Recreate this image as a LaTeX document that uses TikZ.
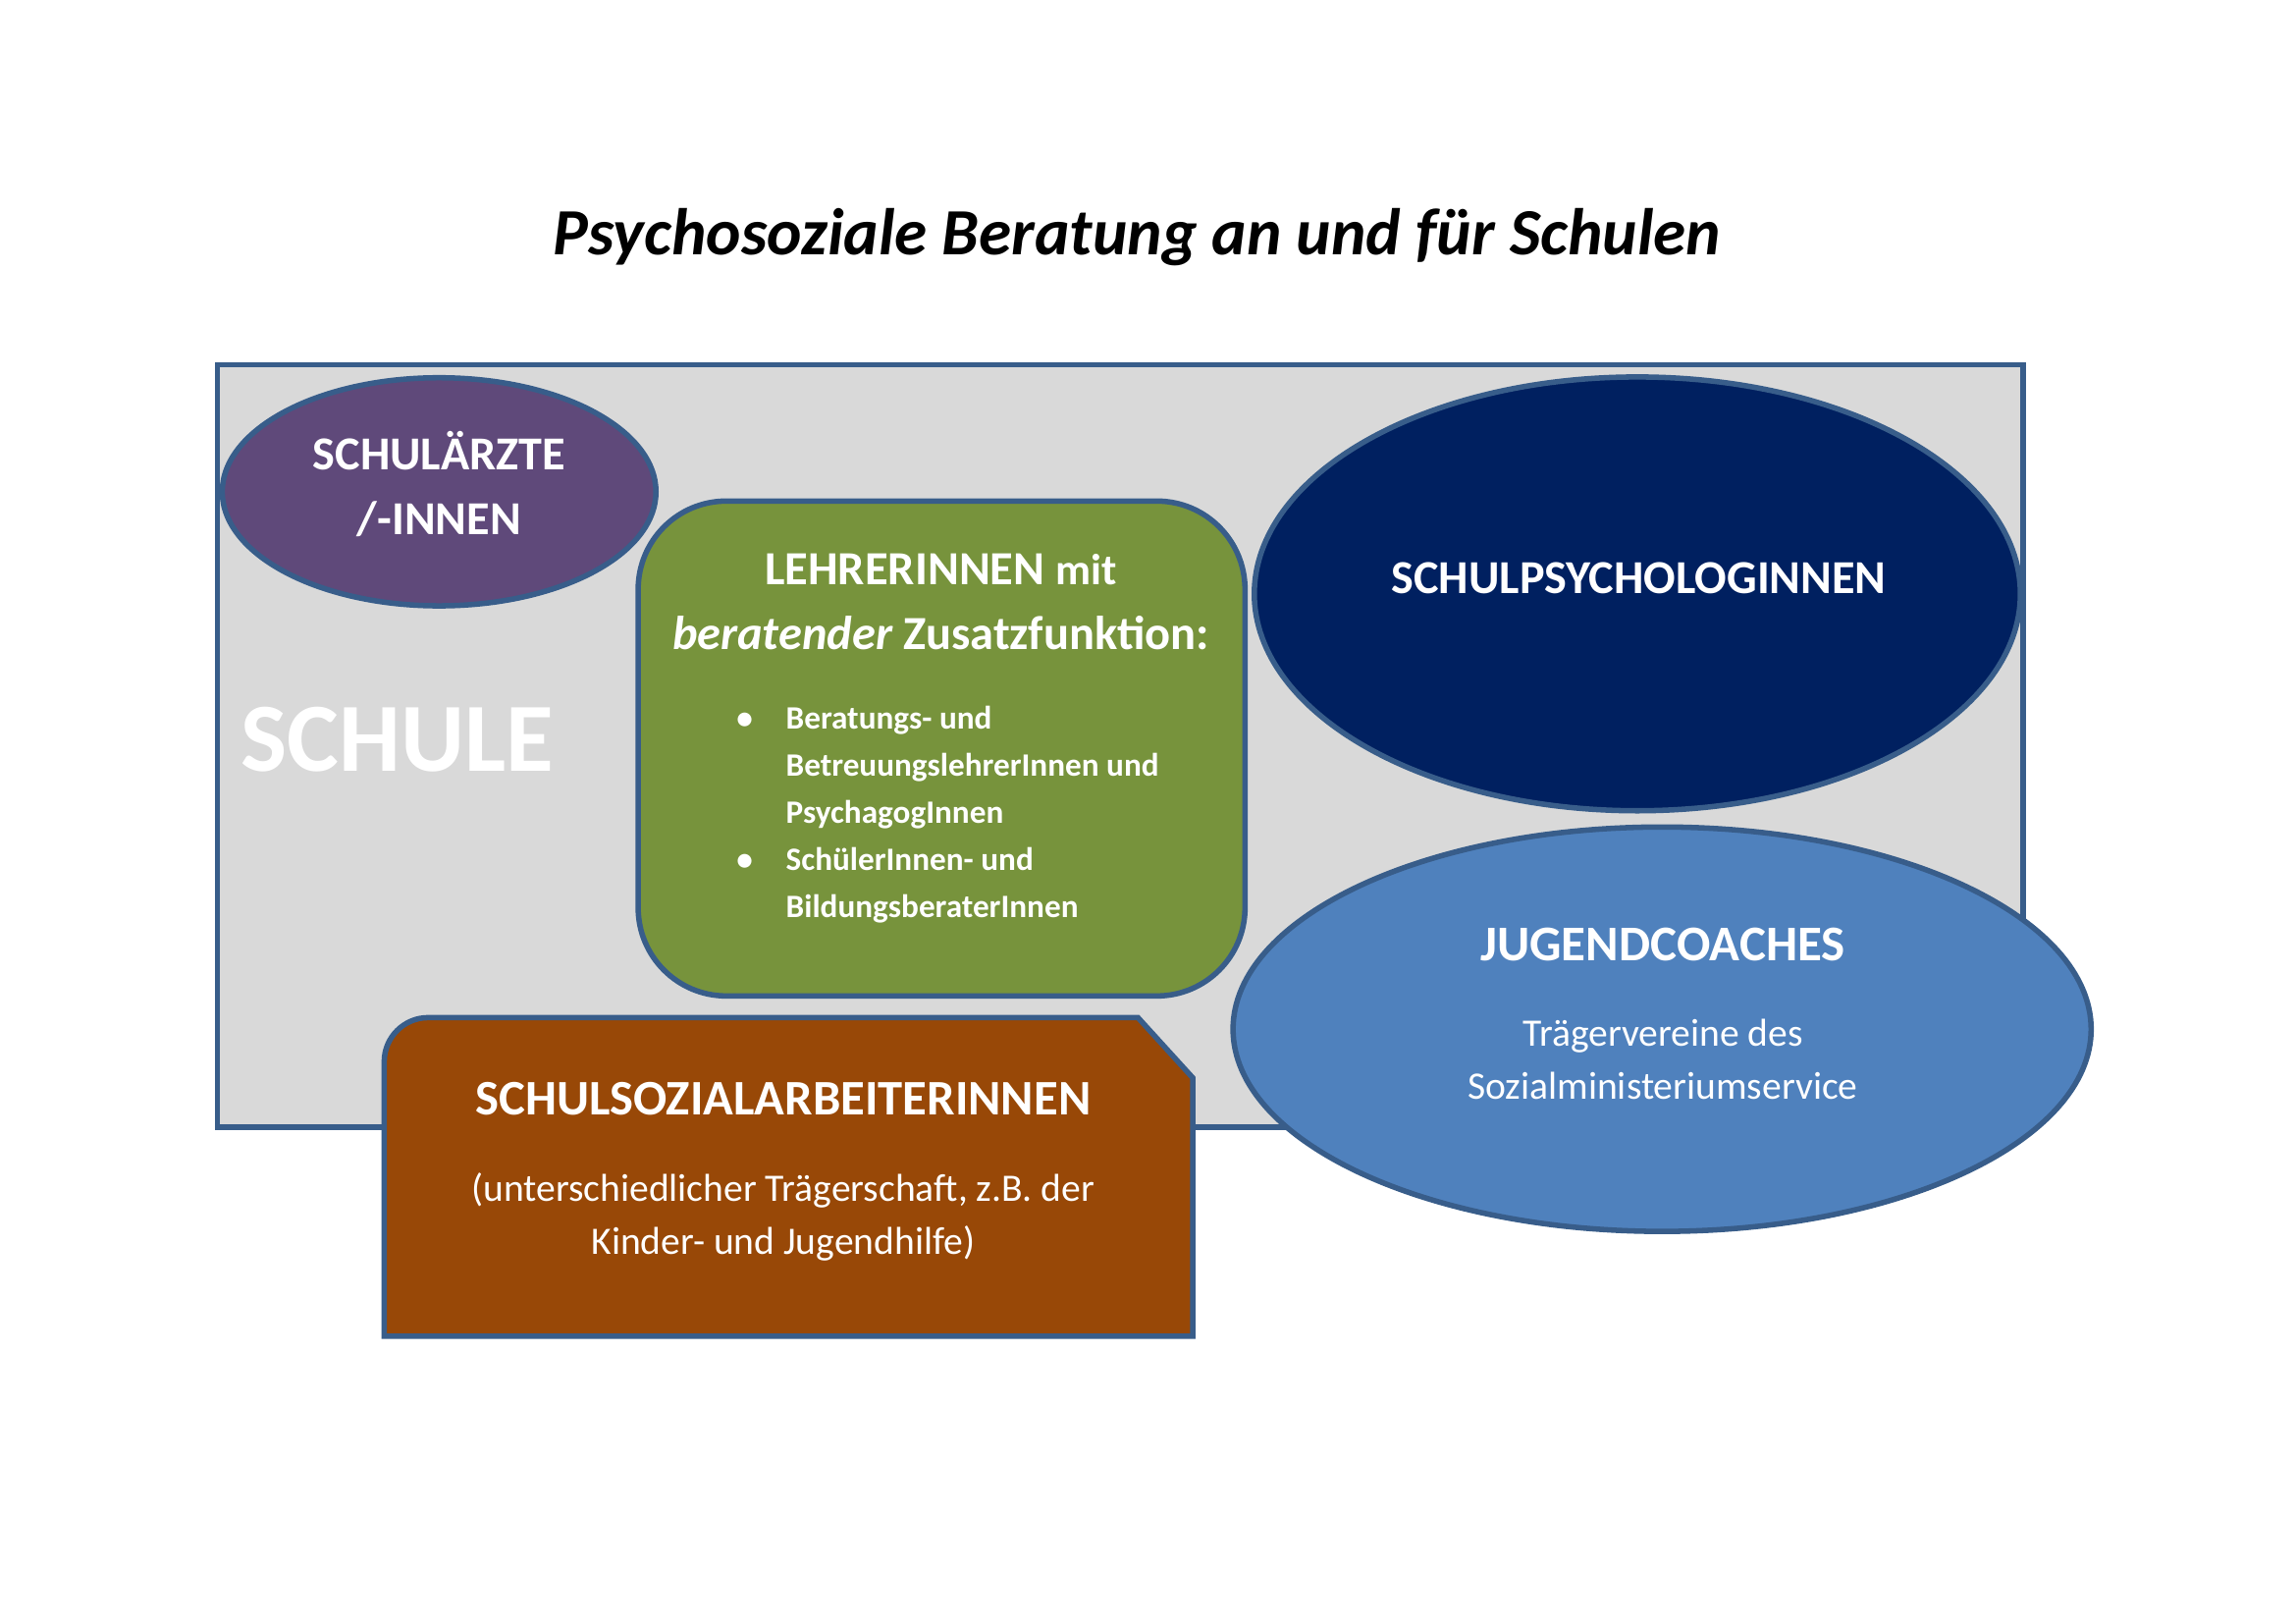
\documentclass[tikz,border=0pt]{standalone}
\usepackage{fontspec}
\setmainfont{Carlito}
\usetikzlibrary{shapes.geometric}
\definecolor{rahmen}{HTML}{385D8A}
\definecolor{schulgrau}{HTML}{D9D9D9}
\definecolor{arztlila}{HTML}{5F497A}
\definecolor{lehrgruen}{HTML}{77933C}
\definecolor{psychblau}{HTML}{002060}
\definecolor{coachblau}{HTML}{4F81BD}
\definecolor{sozbraun}{HTML}{984807}
\begin{document}
\begin{tikzpicture}[x=1mm,y=-1mm,
    feld/.style={draw=rahmen, line width=2pt, inner sep=0pt},
    kopf/.style={text=white, inner sep=0pt, anchor=base, align=center,
                 font=\fontsize{17.4}{23.8}\selectfont\bfseries},
    info/.style={text=white, inner sep=0pt, anchor=base, align=center,
                 font=\fontsize{14.3}{19.5}\selectfont}]
      \useasboundingbox (0,0) rectangle (297,210);

      \node at (147.1,33.0) [anchor=base, inner sep=0pt, font=\fontsize{24.3}{28}\selectfont\bfseries\itshape] (titel)
        {Psychosoziale Beratung an und für Schulen};

      % Schule als Rahmen
      \node at (144.9,96.5) [rectangle, feld, fill=schulgrau, minimum width=233.6mm, minimum height=98.6mm] (schule) {};
      \node at (31.1,99.7) [anchor=base west, inner sep=0pt, text=white, font=\fontsize{36}{40}\selectfont\bfseries] (schulelabel) {SCHULE};

      \node at (56.8,63.6)   [ellipse, feld, fill=arztlila, minimum width=56.1mm, minimum height=29.5mm] (aerzte) {};
      \node at (121.8,96.8)  [rectangle, feld, fill=lehrgruen, rounded corners=11.4mm, minimum width=78.5mm, minimum height=64mm] (lehrer) {};
      \node at (211.8,76.8)  [ellipse, feld, fill=psychblau, minimum width=99.1mm, minimum height=56.1mm] (psych) {};
      \node at (215.0,133.1) [ellipse, feld, fill=coachblau, minimum width=111mm, minimum height=52.3mm] (coach) {};
      \draw[feld, fill=sozbraun] (49.7,172.8) -- (49.7,137.3) arc[start angle=180, end angle=90, radius=5.7mm]
        -- (147.2,131.6) -- (154.3,139.4) -- (154.3,172.8) -- cycle;

      % Beschriftungen (base = letzte Zeile)
      \node at (56.8,69.1)  [kopf] (aerztetext) {SCHULÄRZTE\\/-INNEN};
      \node at (121.7,84.0) [kopf, font=\fontsize{17.5}{23.8}\selectfont\bfseries] (lehrertext)
        {LEHRERINNEN {\fontsize{16}{23.8}\selectfont mit}\\\itshape beratender\upshape\ Zusatzfunktion:};
      \node at (101.6,118.6) [anchor=base west, inner sep=0pt, text=white, align=left,
                             font=\fontsize{12}{17.3}\selectfont\bfseries] (lehrerliste)
        {\llap{\textbullet\hspace{4.3mm}}Beratungs- und\\BetreuungslehrerInnen und\\PsychagogInnen\\
         \llap{\textbullet\hspace{4.3mm}}SchülerInnen- und\\BildungsberaterInnen};
      \node at (212.0,76.8)  [kopf] (psychtext) {SCHULPSYCHOLOGINNEN};
      \node at (215.1,124.2) [kopf, font=\fontsize{18.4}{23.8}\selectfont\bfseries] (coachtext) {JUGENDCOACHES};
      \node at (215.1,142.1) [info] (coachinfo) {Trägervereine des\\Sozialministeriumservice};
      \node at (101.3,144.2) [kopf, font=\fontsize{18.3}{23.8}\selectfont\bfseries] (soztext) {SCHULSOZIALARBEITERINNEN};
      \node at (101.3,162.2) [info] (sozinfo) {(unterschiedlicher Trägerschaft, z.B. der\\Kinder- und Jugendhilfe)};
\end{tikzpicture}
\end{document}
